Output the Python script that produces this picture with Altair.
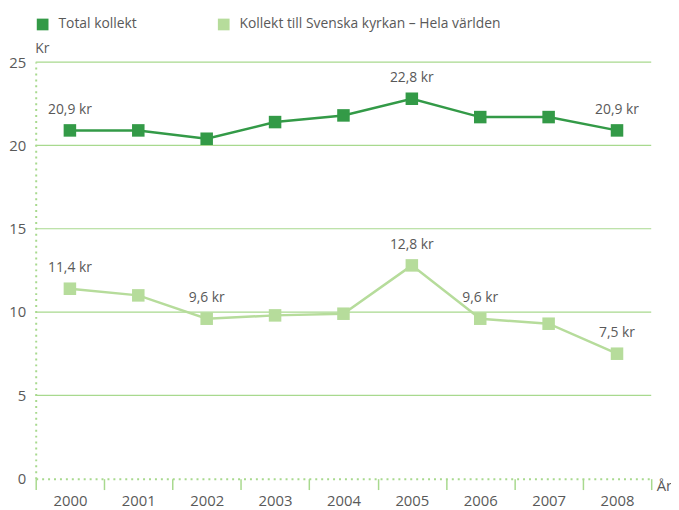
import altair as alt
import pandas as pd

years = [2000, 2001, 2002, 2003, 2004, 2005, 2006, 2007, 2008]
total = [20.9, 20.9, 20.4, 21.4, 21.8, 22.8, 21.7, 21.7, 20.9]
world = [11.4, 11.0, 9.6, 9.8, 9.9, 12.8, 9.6, 9.3, 7.5]
series_names = ["Total kollekt", "Kollekt till Svenska kyrkan – Hela världen"]
series_colors = ["#339a47", "#b6dc9b"]
label_years_total = [2000, 2005, 2008]
label_years_world = [2000, 2002, 2005, 2006, 2008]
y_ticks = [0, 5, 10, 15, 20, 25]
grid_values = [5, 10, 15, 20, 25]

FONT = "Open Sans"
GRAY = "#595959"
GRID = "#a8d98e"

rows = []
for name, vals, lab in [(series_names[0], total, label_years_total),
                        (series_names[1], world, label_years_world)]:
    for y, v in zip(years, vals):
        rows.append({
            "year": y, "value": v, "series": name,
            "label": (f"{v:.1f}".replace(".", ",") + " kr") if y in lab else "",
        })
df = pd.DataFrame(rows)

xenc = alt.X("year:O", title="År",
             scale=alt.Scale(paddingInner=0, paddingOuter=0),
             axis=alt.Axis(labelAngle=0, domainDash=[2, 4], domainColor=GRID, domainWidth=2,
                           tickBand="extent", tickSize=11, tickColor=GRID, tickWidth=1.5,
                           labelFont=FONT, labelFontSize=15, labelColor=GRAY, labelPadding=4,
                           titleFont=FONT, titleFontSize=15, titleColor=GRAY, titleFontWeight="normal",
                           titleAngle=0, titleAlign="left", titleBaseline="middle",
                           titleX=627, titleY=7, grid=False))
yenc = alt.Y("value:Q", title="Kr",
             scale=alt.Scale(domain=[0, 25], nice=False),
             axis=alt.Axis(values=y_ticks, grid=False, ticks=False, domainDash=[2, 4],
                           domainColor=GRID, domainWidth=2,
                           labelFont=FONT, labelFontSize=15, labelColor=GRAY, labelPadding=10,
                           titleFont=FONT, titleFontSize=14, titleColor=GRAY, titleFontWeight="normal",
                           titleAngle=0, titleAlign="left", titleBaseline="bottom",
                           titleX=-1, titleY=-7))

color = alt.Color("series:N", title=None,
                  scale=alt.Scale(domain=series_names, range=series_colors),
                  legend=alt.Legend(orient="none", legendX=0, legendY=-45, direction="horizontal",
                                    symbolType="square", symbolSize=140, symbolStrokeWidth=0,
                                    symbolOpacity=1, labelFont=FONT, labelFontSize=14,
                                    labelColor=GRAY, columnPadding=80, labelOffset=9,
                                    labelLimit=400))

grid = alt.Chart(pd.DataFrame({"value": grid_values})).mark_rule(color=GRID, strokeWidth=1.2).encode(
    y=yenc)

base = alt.Chart(df)
lines = base.mark_line(strokeWidth=2.5).encode(x=xenc, y=yenc, color=color, detail="series:N")
points = base.mark_point(shape="square", filled=True, size=160, opacity=1).encode(
    x=xenc, y=yenc, color=color)
texts = base.mark_text(dy=-21, font=FONT, fontSize=14, color=GRAY).encode(
    x=xenc, y=yenc, text="label:N")

chart = alt.layer(grid, lines, points, texts).properties(
    width=622, height=421,
    autosize=alt.AutoSizeParams(type="none"),
    padding={"left": 28, "top": 52, "right": 20, "bottom": 30},
).configure_view(stroke=None)

chart.save("out.html", embed_options={"renderer": "svg", "actions": False})
